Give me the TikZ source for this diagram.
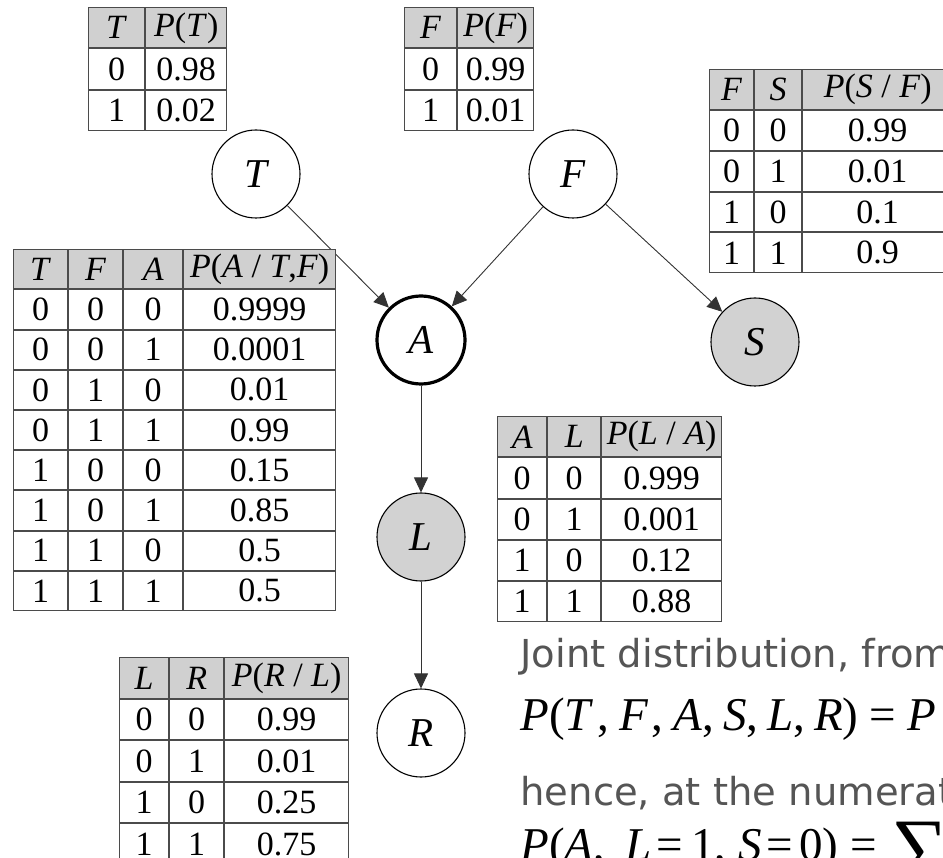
\documentclass[tikz,border=0pt]{standalone}
\usepackage{fontspec}
\setmainfont{Liberation Serif}
\newfontfamily\notefont{DejaVu Sans}
\usetikzlibrary{arrows.meta,matrix}

\definecolor{hdrgray}{RGB}{208,208,208}
\definecolor{nodegray}{RGB}{210,210,210}
\definecolor{notegray}{RGB}{85,85,85}
\definecolor{rulegray}{RGB}{75,75,75}

\tikzset{
  cpt/.style={matrix of nodes, anchor=north west, inner sep=0pt,
    column sep=0pt, row sep=0pt,
    nodes={draw=rulegray, line width=1pt, inner sep=0pt, outer sep=0pt,
      minimum height=#1, anchor=center,
      font=\fontsize{34}{34}\selectfont},
    row 1/.style={nodes={fill=hdrgray}}},
  colw/.style 2 args={column #1/.style={nodes={minimum width=#2}}},
  var/.style={circle, draw=black, line width=1.1pt, fill=white,
    minimum size=88pt, inner sep=0pt,
    font=\fontsize{41}{41}\selectfont\itshape},
  query/.style={var, line width=3.2pt},
  observed/.style={var, fill=nodegray},
  link/.style={draw=black!80, line width=0.9pt,
    -{Triangle[length=15pt,width=14pt]}},
  note/.style={anchor=base west, text=notegray,
    font=\notefont\fontsize{38.5}{38.5}\selectfont},
  formula/.style={anchor=base west, font=\fontsize{47}{47}\selectfont}
}

\newcommand{\iv}[1]{\textit{#1}}
\newcommand{\sep}[2]{\kern#1pt,\kern#2pt\relax}

\begin{document}
\begin{tikzpicture}[x=1pt,y=-1pt]
\useasboundingbox (0,0) rectangle (943,858);
\clip (0,0) rectangle (943,858);

% network nodes
\node[var]      (T) at (256,174) {T};
\node[var]      (F) at (573,174) {F};
\node[query]    (A) at (421,340) {A};
\node[observed] (S) at (755,342) {S};
\node[observed] (L) at (421,537) {L};
\node[var]      (R) at (421,733) {R};

% dependencies
\draw[link] (T) -- (A);
\draw[link] (F) -- (A);
\draw[link] (F) -- (S);
\draw[link] (A) -- (L);
\draw[link] (L) -- (R);

% conditional probability tables
\matrix (cptT) [cpt=40.3pt, colw={1}{56pt}, colw={2}{81pt}] at (88,7) {
  \iv{T} & \iv{P}(\iv{T}) \\
  0 & 0.98 \\
  1 & 0.02 \\
};

\matrix (cptF) [cpt=40.3pt, colw={1}{52pt}, colw={2}{76pt}] at (404,7) {
  \iv{F} & \iv{P}(\iv{F}) \\
  0 & 0.99 \\
  1 & 0.01 \\
};

\matrix (cptS) [cpt=39.8pt, colw={1}{44pt}, colw={2}{47pt}, colw={3}{150pt}] at (709,69) {
  \iv{F} & \iv{S} & \iv{P}(\iv{S} / \iv{F}) \\
  0 & 0 & 0.99 \\
  0 & 1 & 0.01 \\
  1 & 0 & 0.1 \\
  1 & 1 & 0.9 \\
};

\matrix (cptA) [cpt=39.2pt, colw={1}{54pt}, colw={2}{54pt}, colw={3}{59pt}, colw={4}{152pt}] at (13,249) {
  \iv{T} & \iv{F} & \iv{A} & \iv{P}(\iv{A} / \iv{T},\iv{F}) \\
  0 & 0 & 0 & 0.9999 \\
  0 & 0 & 1 & 0.0001 \\
  0 & 1 & 0 & 0.01 \\
  0 & 1 & 1 & 0.99 \\
  1 & 0 & 0 & 0.15 \\
  1 & 0 & 1 & 0.85 \\
  1 & 1 & 0 & 0.5 \\
  1 & 1 & 1 & 0.5 \\
};

\matrix (cptL) [cpt=40.2pt, colw={1}{49pt}, colw={2}{53pt}, colw={3}{120pt}] at (497,416) {
  \iv{A} & \iv{L} & \iv{P}(\iv{L} / \iv{A}) \\
  0 & 0 & 0.999 \\
  0 & 1 & 0.001 \\
  1 & 0 & 0.12 \\
  1 & 1 & 0.88 \\
};

\matrix (cptR) [cpt=40.5pt, colw={1}{49pt}, colw={2}{54pt}, colw={3}{124pt}] at (119,657) {
  \iv{L} & \iv{R} & \iv{P}(\iv{R} / \iv{L}) \\
  0 & 0 & 0.99 \\
  0 & 1 & 0.01 \\
  1 & 0 & 0.25 \\
  1 & 1 & 0.75 \\
};

% joint distribution text
\node[note] (joint) at (517,667) {Joint distribution, from};
\node[formula] (eqjoint) at (517,730)
  {\iv{P}(\iv{T}\sep{4}{10}\iv{F}\sep{3}{10}\iv{A}\sep{0}{9}%
   \iv{S}\sep{0}{9}\iv{L}\sep{0}{9}\iv{R})\kern11pt=\kern11pt\iv{P}};
\node[note] (hence) at (517,805) {hence, at the numerator};
\node[formula] (eqnum) at (517,860)
  {\iv{P}(\iv{A}\sep{0}{20}\iv{L}\kern5pt=\kern8pt1\sep{0}{12}%
   \iv{S}\kern5pt=\kern6pt0)\kern12pt=\kern14pt%
   \raisebox{-14pt}{\fontsize{80}{80}\selectfont ∑}};
\end{tikzpicture}
\end{document}
